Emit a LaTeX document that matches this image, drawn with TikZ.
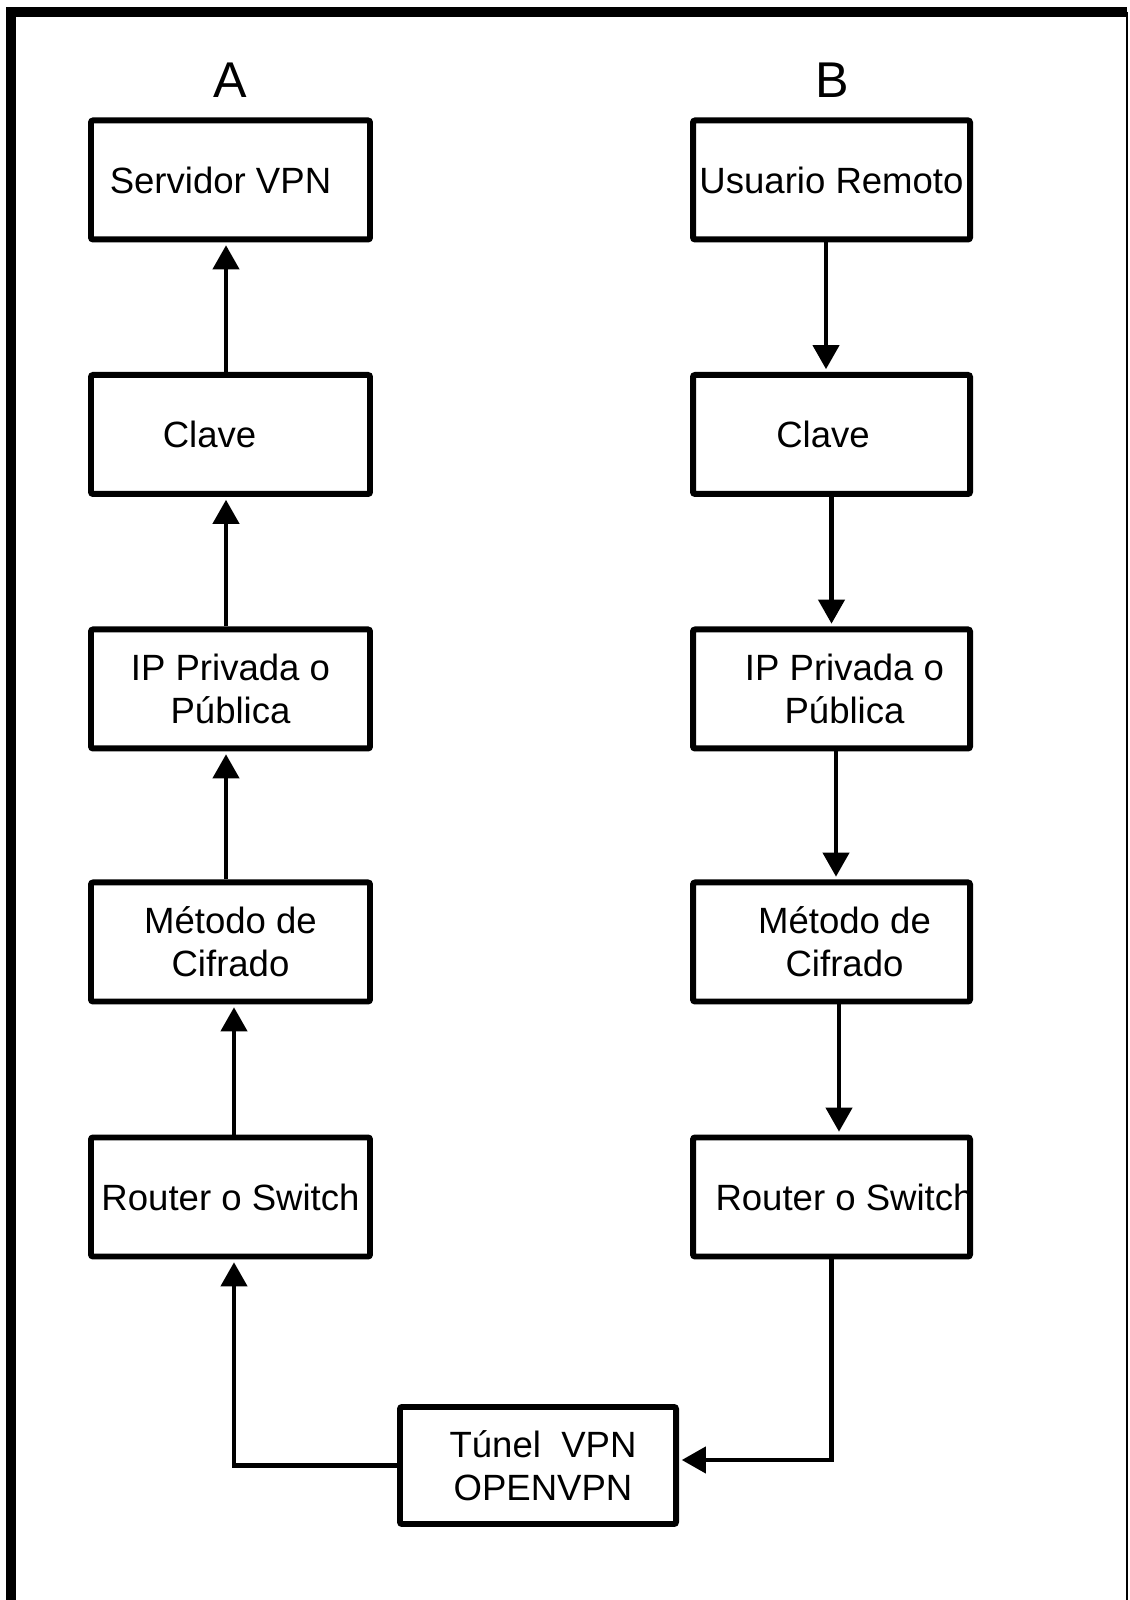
\documentclass[tikz,border=0pt]{standalone}
\usepackage{fontspec}
\setmainfont{Liberation Sans}
\usetikzlibrary{arrows.meta}
\newcommand{\mv}[2]{\makebox[0pt]{\hspace*{#1}#2}}

\tikzset{
  blk/.style={draw, line width=1.7pt, rounded corners=0.6pt, minimum width=2.79cm,
    minimum height=1.19cm, inner sep=0pt, align=center,
    font=\fontsize{10.4}{12.2}\selectfont},
  bw/.style={minimum width=2.77cm},
  hd/.style={font=\fontsize{14.3}{16}\selectfont},
  arr/.style={line width=1.15pt, shorten >=0.8pt, -{Triangle[length=0.24cm,width=0.26cm]}},
}

\begin{document}
\begin{tikzpicture}
     \useasboundingbox (0,0) rectangle (11.29,16);

     % marco
     \draw[line width=2.8pt] (0.11,0) -- (0.11,15.88) -- (11.27,15.88);
     \draw[line width=0.6pt] (11.27,15.88) -- (11.27,0);

     \path (2.30,15.20) node[hd] (ta) {A};
     \path (8.32,15.20) node[hd] (tb) {B};

     % lado A
     \path (2.305,14.20) node[blk] (a1) {\mv{-0.2cm}{Servidor VPN}};
     \path (2.305,11.655) node[blk] (a2) {\mv{-0.42cm}{Clave}};
     \path (2.305,9.11) node[blk] (a3) {IP Privada o\\Pública};
     \path (2.305,6.58) node[blk] (a4) {Método de\\Cifrado};
     \path (2.305,4.03) node[blk] (a5) {Router o Switch};

     % lado B
     \path (8.315,14.20) node[blk,bw] (b1) {Usuario Remoto};
     \path (8.315,11.655) node[blk,bw] (b2) {\mv{-0.17cm}{Clave}};
     \path (8.315,9.11) node[blk,bw] (b3) {\mv{0.26cm}{IP Privada o}\\\mv{0.26cm}{Pública}};
     \path (8.315,6.58) node[blk,bw] (b4) {\mv{0.26cm}{Método de}\\\mv{0.26cm}{Cifrado}};
     \path (8.315,4.03) node[blk,bw] (b5) {\mv{0.26cm}{Router o Switch}};

     \path (5.38,1.345) node[blk, minimum width=2.76cm, minimum height=1.17cm] (tv)
       {\mv{0.1cm}{Túnel~ VPN}\\\mv{0.1cm}{OPENVPN}};

     \draw[arr] ([xshift=-0.045cm]a2.north) -- ([xshift=-0.045cm]a1.south);
     \draw[arr] ([xshift=-0.045cm]a3.north) -- ([xshift=-0.045cm]a2.south);
     \draw[arr] ([xshift=-0.045cm]a4.north) -- ([xshift=-0.045cm]a3.south);
     \draw[arr] ([xshift=0.035cm]a5.north) -- ([xshift=0.035cm]a4.south);
     \draw[arr] (tv.west) -| ([xshift=0.035cm]a5.south);

     \draw[arr] ([xshift=-0.055cm]b1.south) -- ([xshift=-0.055cm]b2.north);
     \draw[arr] (b2.south) -- (b3.north);
     \draw[arr] ([xshift=0.045cm]b3.south) -- ([xshift=0.045cm]b4.north);
     \draw[arr] ([xshift=0.075cm]b4.south) -- ([xshift=0.075cm]b5.north);
     \draw[arr] (b5.south) |- ([yshift=0.055cm]tv.east);

\end{tikzpicture}
\end{document}
